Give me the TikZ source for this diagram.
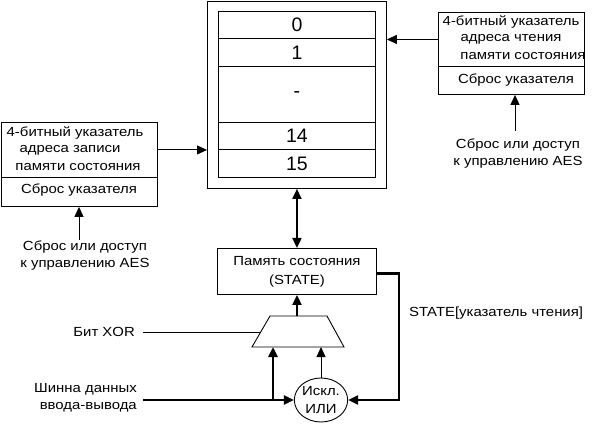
\documentclass[tikz,border=0pt]{standalone}
\usepackage{fontspec}
\setmainfont{Liberation Sans}
\newfontfamily\widesans{Liberation Sans}[FakeStretch=1.13]
\usetikzlibrary{arrows.meta,shapes.geometric,calc}
\begin{document}
\begin{tikzpicture}[x=1pt,y=-1pt,
  txt/.style={font=\widesans\fontsize{13.2}{17}\selectfont, inner sep=0pt},
  big/.style={font=\fontsize{19.5}{22}\selectfont},
  box/.style={draw, line width=0.9pt, anchor=north west, inner sep=0pt},
  arr/.style={line width=0.9pt, -{Triangle[length=10pt,width=9pt]}},
  arrm/.style={line width=1.8pt, -{Triangle[length=10pt,width=9pt]}},
  arrb/.style={line width=1.8pt, {Triangle[length=10pt,width=9pt]}-{Triangle[length=10pt,width=9pt]}},
  arrt/.style={line width=2.8pt, -{Triangle[length=10pt,width=9pt]}}]
\useasboundingbox (0,0) rectangle (595,425);
% memory
\node[box, minimum width=179pt, minimum height=187pt] (outer) at (207,1) {};
\node[box, minimum width=157pt, minimum height=27pt] (r0) at (218,11) {};
\node[box, minimum width=157pt, minimum height=28pt] (r1) at (218,38) {};
\node[box, minimum width=157pt, minimum height=56pt] (rd) at (218,66) {};
\node[box, minimum width=157pt, minimum height=27pt] (r14) at (218,122) {};
\node[box, minimum width=157pt, minimum height=28pt] (r15) at (218,149) {};
\node[big] at (r0.center) {0};
\node[big] at (r1.center) {1};
\node[big] at (rd.center) {-};
\node[big] at (r14.center) {14};
\node[big] at (r15.center) {15};
% right pointer
\node[box, minimum width=146pt, minimum height=54pt] (rtop) at (438,12) {};
\node[box, minimum width=146pt, minimum height=28pt] (rbot) at (438,66) {};
\node[txt] at (511,22) {4-битный указатель};
\node[txt] at (511,39) {адреса чтения};
\node[txt] at (523,56) {памяти состояния};
\node[txt] at (516,80) {Сброс указателя};
\node[txt, align=center] (rt) at (518,154) {Сброс или доступ\\к управлению AES};
\coordinate (ra) at (515,131);
\draw[arr] (ra) -- (ra |- rbot.south);
\draw[arr] (rtop.west) -- (outer.east |- rtop.west);
% left pointer
\node[box, minimum width=156pt, minimum height=55pt] (ltop) at (1,122) {};
\node[box, minimum width=156pt, minimum height=29pt] (lbot) at (1,177) {};
\node[txt] at (75,133) {4-битный указатель};
\node[txt] at (70,150) {адреса записи};
\node[txt] at (78,167) {памяти состояния};
\node[txt] at (79,190) {Сброс указателя};
\node[txt, align=center] (lt) at (85,256) {Сброс или доступ\\к управлению AES};
\coordinate (la) at (79,240);
\draw[arr] (la) -- (la |- lbot.south);
\draw[arr] (ltop.east) -- (outer.west |- ltop.east);
% state
\node[box, minimum width=159pt, minimum height=46pt] (state) at (217,248) {};
\node[txt, align=center, font=\widesans\fontsize{13.2}{19}\selectfont] at (state.center) {Память состояния\\(STATE)};
\draw[arrb] (outer.south) -- (outer.south |- state.north);
% trapezium (multiplexer)
\coordinate (tbl) at (252,347);
\coordinate (ttl) at (270,316);
\coordinate (ttr) at (327,316);
\coordinate (tbr) at (344,347);
\coordinate (ttop) at (297,316);
\coordinate (tleft) at ($(tbl)!0.5!(ttl)$);
\draw[line width=0.9pt] (tbl) -- (ttl) -- (ttr) -- (tbr) -- cycle;
\draw[arrm] (ttop) -- (ttop |- state.south);
% xor
\node[draw, line width=0.9pt, ellipse, minimum width=48pt, minimum height=44pt, inner sep=0pt,
  txt, align=center, font=\widesans\fontsize{13.2}{18}\selectfont] (xor) at (321,400) {Искл.\\ИЛИ};
\draw[arr] (xor.north) -- (xor.north |- tbl);
% inputs
\node[txt, anchor=east] (bxl) at (135,332) {Бит XOR};
\coordinate (bx) at (143,332);
\draw[line width=0.9pt] (bx) -- (bx -| tleft);
\node[txt, align=right, anchor=east] (busl) at (137,398) {Шинна данных\\ввода-вывода};
\coordinate (bus) at (143,400);
\coordinate (br) at (273,400);
\draw[arrt] (bus) -- (xor.west);
\draw[arrt] (br) -- (br |- tbl);
\draw[arrt] ([yshift=-2pt]state.east) -- ++(22,0) |- (xor.east);
\node[txt, anchor=west] (stl) at (409,313) {STATE[указатель чтения]};
\end{tikzpicture}
\end{document}
